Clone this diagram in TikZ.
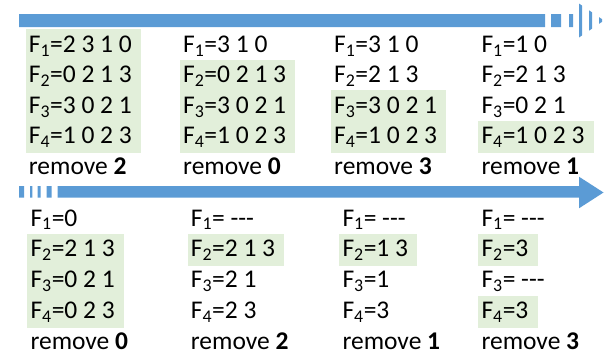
\documentclass[tikz,border=0pt]{standalone}
\usepackage{fontspec}
\setmainfont{Carlito}[Ligatures=TeXOff]
\usetikzlibrary{positioning,fit,backgrounds}
\definecolor{barblue}{RGB}{91,155,213}
\definecolor{keepgreen}{RGB}{226,239,218}
\newcommand{\fsub}[1]{F\textsubscript{#1}=}

\begin{document}
\begin{tikzpicture}[x=1pt, y=-1pt, font=\fontsize{25.5}{30}\selectfont, row/.style={anchor=base west, inner sep=0pt, text height=22pt, text depth=8pt}, hl/.style={fill=keepgreen, inner xsep=6pt, inner ysep=1pt, xshift=3pt}, band/.style={fill=barblue}]
\useasboundingbox (0,0) rectangle (609,356);
% top arrow, head cut into slices
\fill[band] (19,14) rectangle (545,27) (551,14) rectangle (561,27) (569,14) rectangle (573,27);
\begin{scope}
\clip (579,0) rectangle (582,40) (589,0) rectangle (592,40) (599,0) rectangle (602,40);
\fill[band] (579,3.5) -- (604,20.5) -- (579,37.5) -- cycle;
\end{scope}
% bottom arrow, tail cut into stripes
\fill[band] (19,186) rectangle (24,197.5) (30,186) rectangle (32.3,197.5) (37.7,186) rectangle (40.7,197.5) (46.7,186) rectangle (51.7,197.5);
\fill[band] (57.7,186) -- (579,186) -- (579,176.7) -- (603.5,192.5) -- (579,208.3) -- (579,197.5) -- (57.7,197.5) -- cycle;
% first four steps
\foreach \col/\xx/\fa/\fb/\fc/\fd/\gone in {a/28.7/2 3 1 0/0 2 1 3/3 0 2 1/1 0 2 3/2, b/183/3 1 0/0 2 1 3/3 0 2 1/1 0 2 3/0, c/334/3 1 0/2 1 3/3 0 2 1/1 0 2 3/3, d/481.3/1 0/2 1 3/0 2 1/1 0 2 3/1} {
\node[row] (\col1) at (\xx,52.5) {\fsub1\fa};
\node[row, below right=0pt and 0pt of \col1.south west] (\col2) {\fsub2\fb};
\node[row, below right=0pt and 0pt of \col2.south west] (\col3) {\fsub3\fc};
\node[row, below right=0pt and 0pt of \col3.south west] (\col4) {\fsub4\fd};
\node[row, below right=0pt and 0pt of \col4.south west] (\col5) {remove \textbf{\gone}};
}
% last four steps
\foreach \col/\xx/\fa/\fb/\fc/\fd/\gone in {e/30.3/0/2 1 3/0 2 1/0 2 3/0, f/190.7/\ ---/2 1 3/2 1/2 3/2, g/342.3/\ ---/1 3/1/3/1, h/481.3/\ ---/3/\ ---/3/3} {
\node[row] (\col1) at (\xx,226) {\fsub1\fa};
\node[row, below right=0.5pt and 0pt of \col1.south west] (\col2) {\fsub2\fb};
\node[row, below right=0.5pt and 0pt of \col2.south west] (\col3) {\fsub3\fc};
\node[row, below right=0.5pt and 0pt of \col3.south west] (\col4) {\fsub4\fd};
\node[row, below right=0.5pt and 0pt of \col4.south west] (\col5) {remove \textbf{\gone}};
}
% lists still in play
\begin{scope}[on background layer]
\node[hl, fit=(a1)(a4)] (keepa) {};
\node[hl, fit=(b2)(b4)] (keepb) {};
\node[hl, fit=(c3)(c4)] (keepc) {};
\node[hl, fit=(d4)] (keepd) {};
\node[hl, fit=(e2)(e4)] (keepe) {};
\node[hl, fit=(f2)] (keepf) {};
\node[hl, fit=(g2)] (keepg) {};
\node[hl, fit=(h2)] (keeph) {};
\node[hl, fit=(h4)] (keepi) {};
\end{scope}
\end{tikzpicture}
\end{document}
